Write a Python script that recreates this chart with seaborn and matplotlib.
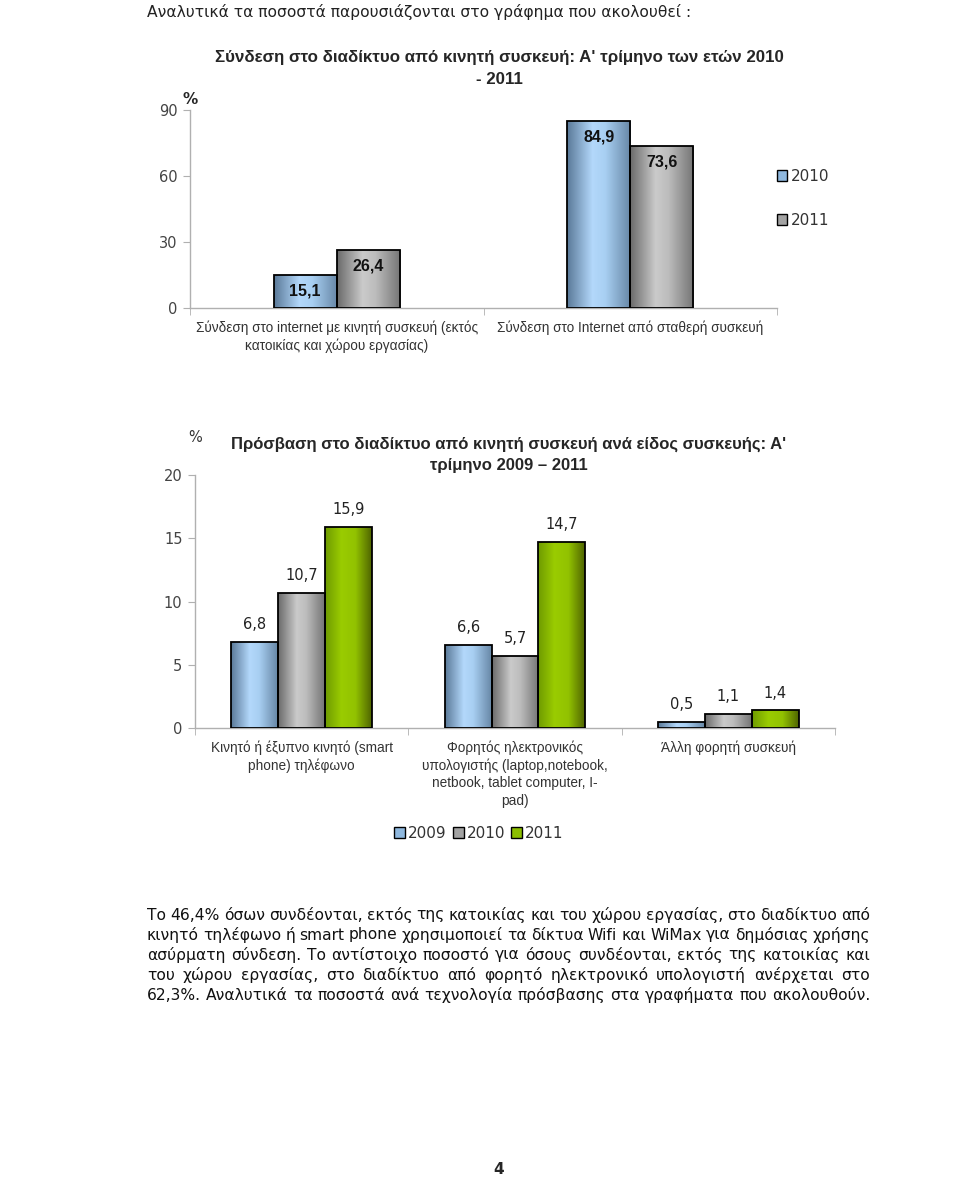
import numpy as np
import pandas as pd
import matplotlib
matplotlib.use("Agg")
import matplotlib.pyplot as plt
import seaborn as sns
from matplotlib.colors import LinearSegmentedColormap
from matplotlib.patches import Patch

# ---- data ----
conn_categories = [
    "Σύνδεση στο internet με κινητή συσκευή (εκτός\nκατοικίας και χώρου εργασίας)",
    "Σύνδεση στο Internet από σταθερή συσκευή",
]
conn_years = ["2010", "2011"]
conn_2010 = [15.1, 84.9]
conn_2011 = [26.4, 73.6]

device_categories = [
    "Κινητό ή έξυπνο κινητό (smart\nphone) τηλέφωνο",
    "Φορητός ηλεκτρονικός\nυπολογιστής (laptop,notebook,\nnetbook, tablet computer, I-\npad)",
    "Άλλη φορητή συσκευή",
]
device_years = ["2009", "2010", "2011"]
dev_2009 = [6.8, 6.6, 0.5]
dev_2010 = [10.7, 5.7, 1.1]
dev_2011 = [15.9, 14.7, 1.4]

header = "Αναλυτικά τα ποσοστά παρουσιάζονται στο γράφημα που ακολουθεί :"
title1 = "Σύνδεση στο διαδίκτυο από κινητή συσκευή: Α' τρίμηνο των ετών 2010\n- 2011"
title2 = "Πρόσβαση στο διαδίκτυο από κινητή συσκευή ανά είδος συσκευής: Α'\nτρίμηνο 2009 – 2011"
paragraph = [
    "Το 46,4% όσων συνδέονται, εκτός της κατοικίας και του χώρου εργασίας, στο διαδίκτυο από",
    "κινητό τηλέφωνο ή smart phone χρησιμοποιεί τα δίκτυα Wifi και WiMax για  δημόσιας χρήσης",
    "ασύρματη σύνδεση. Το αντίστοιχο ποσοστό για όσους συνδέονται, εκτός της κατοικίας και",
    "του χώρου εργασίας, στο διαδίκτυο από φορητό ηλεκτρονικό υπολογιστή ανέρχεται στο",
    "62,3%. Αναλυτικά τα ποσοστά ανά τεχνολογία πρόσβασης στα γραφήματα που ακολουθούν.",
]

df1 = pd.DataFrame({
    "cat": conn_categories * 2,
    "year": [conn_years[0]] * 2 + [conn_years[1]] * 2,
    "value": conn_2010 + conn_2011,
})
df2 = pd.DataFrame({
    "cat": device_categories * 3,
    "year": [y for y in device_years for _ in device_categories],
    "value": dev_2009 + dev_2010 + dev_2011,
})

# ---- style ----
sns.set_style("ticks")
plt.rcParams["font.family"] = ["DejaVu Sans"]
narrow = ["Liberation Sans Narrow", "Liberation Sans", "DejaVu Sans"]
tickfont = ["Liberation Sans", "DejaVu Sans"]

W, H = 960, 1202
fig = plt.figure(figsize=(W / 100, H / 100), dpi=100)

def fx(px):
    return px / W

def fy(py):
    return 1 - py / H

blue_cmap = LinearSegmentedColormap.from_list(
    "b", [(0, "#5a7998"), (0.4, "#b3d8fb"), (0.6, "#a8cff2"), (1, "#6686a5")])
gray_cmap = LinearSegmentedColormap.from_list(
    "g", [(0, "#6a6a6a"), (0.4, "#cacaca"), (0.6, "#bdbdbd"), (1, "#747474")])
green_cmap = LinearSegmentedColormap.from_list(
    "gr", [(0, "#6e9a00"), (0.35, "#9acc00"), (0.65, "#92c200"), (1, "#4f6400")])
flat = {"blue": "#8fb8de", "gray": "#a3a3a3", "green": "#8cbf00"}


def shade(ax, container, cmap):
    grad = np.linspace(0, 1, 256).reshape(1, -1)
    for bar in container:
        x0, y0 = bar.get_x(), bar.get_y()
        w, h = bar.get_width(), bar.get_height()
        im = ax.imshow(grad, extent=[x0, x0 + w, y0, y0 + h], aspect="auto",
                       cmap=cmap, origin="lower", zorder=2)
        im.set_clip_path(bar)
        bar.set_facecolor("none")
        bar.set_zorder(3)


def style_axes(ax, n, ylim, yticks):
    ax.set_xlim(-0.5, n - 0.5)
    ax.set_ylim(*ylim)
    ax.set_yticks(yticks)
    ax.set_xlabel("")
    ax.set_ylabel("")
    for s in ["top", "right"]:
        ax.spines[s].set_visible(False)
    for s in ["left", "bottom"]:
        ax.spines[s].set_color("#b0b0b0")
        ax.spines[s].set_linewidth(1.0)
    ax.set_xticks(np.arange(-0.5, n), minor=True)
    ax.tick_params(axis="x", which="major", length=0, pad=9,
                   labelsize=9.8, labelcolor="#333333")
    ax.tick_params(axis="x", which="minor", length=5, color="#b0b0b0")
    ax.tick_params(axis="y", length=5, color="#b0b0b0", labelsize=10.5,
                   labelcolor="#444444", pad=4)
    for lab in ax.get_xticklabels():
        lab.set_linespacing(1.3)
        lab.set_family(tickfont)


# ---- header ----
fig.text(fx(147), fy(12), header, fontsize=11.2, ha="left", va="center",
         color="#222222")

# ---- chart 1 ----
ax1 = fig.add_axes([fx(190), fy(308), fx(777) - fx(190), (308 - 110) / H])
sns.barplot(data=df1, x="cat", y="value", hue="year", hue_order=conn_years,
            palette=[flat["blue"], flat["gray"]], width=0.43, saturation=1,
            edgecolor="black", linewidth=1.3, errorbar=None, legend=False, ax=ax1)
shade(ax1, ax1.containers[0], blue_cmap)
shade(ax1, ax1.containers[1], gray_cmap)
for c in ax1.containers:
    ax1.bar_label(c, labels=[f"{v:.1f}".replace(".", ",") for v in c.datavalues],
                  padding=-17, fontsize=11.5, fontweight="bold", color="#111111",
                  family=narrow)
style_axes(ax1, 2, (0, 90), [0, 30, 60, 90])

fig.text(fx(499), fy(68.5), title1, fontsize=12.2, fontweight="bold", ha="center",
         va="center", linespacing=1.55, family=narrow)
fig.text(fx(190), fy(100), "%", fontsize=11, fontweight="bold", ha="center",
         va="center")
fig.legend(handles=[Patch(facecolor=flat["blue"], edgecolor="black"),
                    Patch(facecolor=flat["gray"], edgecolor="black")],
           labels=conn_years, loc="upper left",
           bbox_to_anchor=(fx(763), fy(155)), frameon=False, fontsize=11,
           handlelength=0.7, handleheight=0.7, handletextpad=0.25,
           labelspacing=1.9, labelcolor="#333333")

# ---- chart 2 ----
ax2 = fig.add_axes([fx(195), fy(728), fx(835) - fx(195), (728 - 475) / H])
sns.barplot(data=df2, x="cat", y="value", hue="year", hue_order=device_years,
            palette=[flat["blue"], flat["gray"], flat["green"]], width=0.66,
            saturation=1, edgecolor="black", linewidth=1.3, errorbar=None,
            legend=False, ax=ax2)
shade(ax2, ax2.containers[0], blue_cmap)
shade(ax2, ax2.containers[1], gray_cmap)
shade(ax2, ax2.containers[2], green_cmap)
for c in ax2.containers:
    ax2.bar_label(c, labels=[f"{v:.1f}".replace(".", ",") for v in c.datavalues],
                  padding=7, fontsize=10.5, color="#222222")
style_axes(ax2, 3, (0, 20), [0, 5, 10, 15, 20])

fig.text(fx(509), fy(455), title2, fontsize=12.0, fontweight="bold", ha="center",
         va="center", linespacing=1.55, family=narrow)
fig.text(fx(195), fy(437), "%", fontsize=10.5, ha="center", va="center",
         color="#333333")
fig.legend(handles=[Patch(facecolor=flat["blue"], edgecolor="black"),
                    Patch(facecolor=flat["gray"], edgecolor="black"),
                    Patch(facecolor=flat["green"], edgecolor="black")],
           labels=device_years, loc="center", ncol=3,
           bbox_to_anchor=(fx(479), fy(833)), frameon=False, fontsize=11,
           handlelength=0.7, handleheight=0.7, handletextpad=0.2,
           columnspacing=0.4, labelcolor="#333333")

# ---- justified paragraph ----
renderer = fig.canvas.get_renderer()
left, right = 147, 870
for i, line in enumerate(paragraph):
    y = fy(915 + i * 20)
    words = line.split()
    texts = [fig.text(0, y, w, fontsize=11.2, ha="left", va="center",
                      color="#111111") for w in words]
    widths = [t.get_window_extent(renderer).width for t in texts]
    gap = (right - left - sum(widths)) / (len(words) - 1)
    x = left
    for t, wd in zip(texts, widths):
        t.set_x(fx(x))
        x += wd + gap

fig.text(fx(499), fy(1170), "4", fontsize=11, fontweight="bold", ha="center",
         va="center")

fig.savefig("out.png", dpi=100)
